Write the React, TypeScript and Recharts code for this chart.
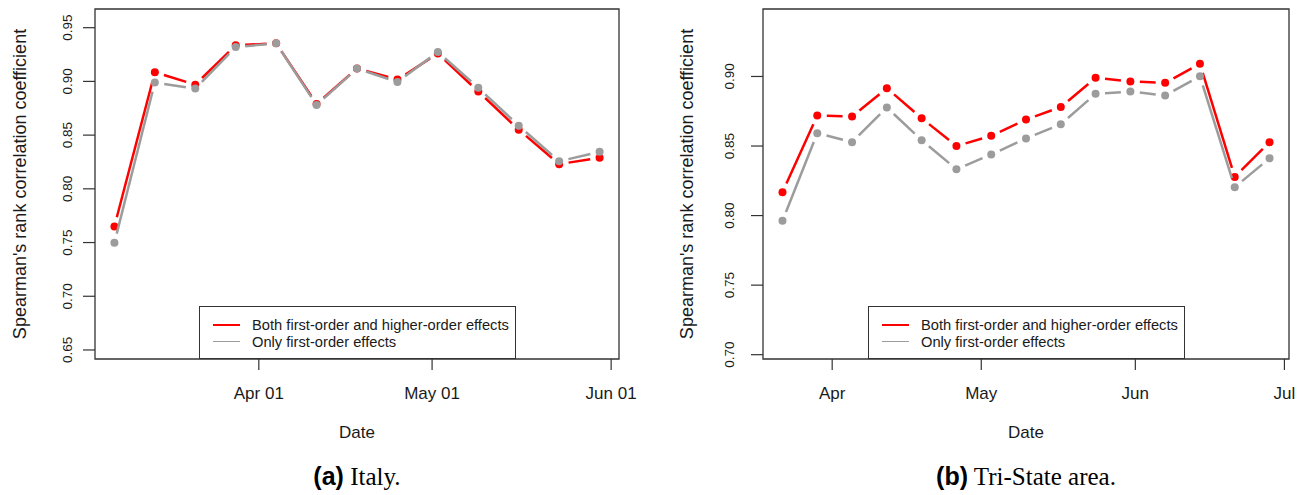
import React from 'react';
import { LineChart, Line, XAxis, YAxis, ReferenceArea, Legend, Label } from 'recharts';

// weekly dates (2020)
const italyDates = [
  '2020-03-07', '2020-03-14', '2020-03-21', '2020-03-28', '2020-04-04', '2020-04-11', '2020-04-18',
  '2020-04-25', '2020-05-02', '2020-05-09', '2020-05-16', '2020-05-23', '2020-05-30',
];
const italyBoth = [0.765, 0.9085, 0.897, 0.9336, 0.9355, 0.879, 0.912, 0.9017, 0.926, 0.8906, 0.855, 0.823, 0.829];
const italyFirst = [0.7497, 0.899, 0.8933, 0.932, 0.9355, 0.878, 0.912, 0.8995, 0.9274, 0.894, 0.8587, 0.8256, 0.8345];

const triDates = [
  '2020-03-22', '2020-03-29', '2020-04-05', '2020-04-12', '2020-04-19', '2020-04-26', '2020-05-03', '2020-05-10',
  '2020-05-17', '2020-05-24', '2020-05-31', '2020-06-07', '2020-06-14', '2020-06-21', '2020-06-28',
];
const triBoth = [0.8168, 0.8719, 0.8712, 0.8916, 0.87, 0.85, 0.8573, 0.869, 0.878, 0.899, 0.8964, 0.8954, 0.9091, 0.8278, 0.8528];
const triFirst = [0.7962, 0.8592, 0.8528, 0.8777, 0.8542, 0.8333, 0.8439, 0.8554, 0.8657, 0.8875, 0.8892, 0.8863, 0.9002, 0.8204, 0.8412];

const italyTickDates = ['2020-04-01', '2020-05-01', '2020-06-01'];
const italyTickLabels = ['Apr 01', 'May 01', 'Jun 01'];
const triTickDates = ['2020-04-01', '2020-05-01', '2020-06-01', '2020-07-01'];
const triTickLabels = ['Apr', 'May', 'Jun', 'Jul'];

const italyYTicks = [0.65, 0.7, 0.75, 0.8, 0.85, 0.9, 0.95];
const triYTicks = [0.7, 0.75, 0.8, 0.85, 0.9];
const italyYDomain: [number, number] = [0.6416, 0.9674];
const triYDomain: [number, number] = [0.6969, 0.9485];

const seriesNames = ['Both first-order and higher-order effects', 'Only first-order effects'];

const RED = '#ff0000';
const GRAY = '#9c9c9c';
const seriesColors = [RED, GRAY];
const SANS = '"Liberation Sans", Arial, Helvetica, sans-serif';
const SERIF = '"Liberation Serif", "Times New Roman", serif';

const DAY = 86400000;
const toDay = (s: string) => Date.UTC(+s.slice(0, 4), +s.slice(5, 7) - 1, +s.slice(8, 10)) / DAY;

const H = 495;
const TOP = 9;
const XAXIS_H = 136;
const GAP = 9.5; // R type = "b": segments stop short of the points
const DOT_R = 4;

// draws point i plus the gapped segment to point i + 1, using the line's own pixel points
const gappedDot = (key: string, color: string) => (props: any) => {
  const { cx, cy, index, points } = props;
  const next = points && points[index + 1];
  let seg = null;
  if (next && next.x != null && next.y != null) {
    const dx = next.x - cx;
    const dy = next.y - cy;
    const len = Math.hypot(dx, dy);
    if (len > 2 * GAP) {
      const ux = dx / len;
      const uy = dy / len;
      seg = (
        <line
          x1={cx + ux * GAP}
          y1={cy + uy * GAP}
          x2={next.x - ux * GAP}
          y2={next.y - uy * GAP}
          stroke={color}
          strokeWidth={2.5}
        />
      );
    }
  }
  return (
    <g key={`${key}-${index}`}>
      {seg}
      <circle cx={cx} cy={cy} r={DOT_R} fill={color} />
    </g>
  );
};

interface PanelProps {
  dates: string[];
  both: number[];
  first: number[];
  tickDates: string[];
  tickLabels: string[];
  yTicks: number[];
  yDomain: [number, number];
  width: number;
  axisW: number;
  rightM: number;
  tickLabelX: number;
  titleX: number;
  tag: string;
  place: string;
}

const Panel = (p: PanelProps) => {
  const data = p.dates.map((d, i) => ({ x: toDay(d), both: p.both[i], first: p.first[i] }));
  const xs = data.map((d) => d.x);
  const pad = (Math.max(...xs) - Math.min(...xs)) * 0.04;
  const xDomain: [number, number] = [Math.min(...xs) - pad, Math.max(...xs) + pad];
  const ticks = p.tickDates.map(toDay);
  const plotW = p.width - p.axisW - p.rightM;
  const cx = p.axisW + plotW / 2;
  const cy = TOP + (H - TOP - XAXIS_H) / 2;
  const legendW = 317;

  return (
    <LineChart width={p.width} height={H} data={data} margin={{ top: TOP, right: p.rightM, bottom: 0, left: 0 }}>
      <XAxis
        dataKey="x"
        type="number"
        domain={xDomain}
        allowDataOverflow
        ticks={ticks}
        axisLine={false}
        tickSize={11}
        tickLine={{ stroke: '#333', strokeWidth: 1.2 }}
        height={XAXIS_H}
        tick={(t: any) => (
          <text x={t.x} y={393} textAnchor="middle" dominantBaseline="central" fontFamily={SANS} fontSize={17} fill="#1a1a1a">
            {p.tickLabels[ticks.indexOf(t.payload.value)]}
          </text>
        )}
      >
        <Label
          content={() => (
            <g>
              <text x={cx} y={432} textAnchor="middle" dominantBaseline="central" fontFamily={SANS} fontSize={17} fill="#1a1a1a">
                Date
              </text>
              <text x={cx} y={485} textAnchor="middle" fontSize={25} fill="#000">
                <tspan fontFamily={SANS} fontWeight="bold">{p.tag}</tspan>
                <tspan fontFamily={SERIF}> {p.place}</tspan>
              </text>
            </g>
          )}
        />
      </XAxis>
      <YAxis
        type="number"
        domain={p.yDomain}
        allowDataOverflow
        ticks={p.yTicks}
        width={p.axisW}
        axisLine={false}
        tickSize={12}
        tickLine={{ stroke: '#333', strokeWidth: 1.2 }}
        tick={(t: any) => (
          <text
            x={p.tickLabelX}
            y={t.y}
            transform={`rotate(-90 ${p.tickLabelX} ${t.y})`}
            textAnchor="middle"
            dominantBaseline="central"
            fontFamily={SANS}
            fontSize={13.5}
            fill="#1a1a1a"
          >
            {Number(t.payload.value).toFixed(2)}
          </text>
        )}
      >
        <Label
          content={() => (
            <text
              x={p.titleX}
              y={cy}
              transform={`rotate(-90 ${p.titleX} ${cy})`}
              textAnchor="middle"
              dominantBaseline="central"
              fontFamily={SANS}
              fontSize={18}
              fill="#1a1a1a"
            >
              Spearman's rank correlation coefficient
            </text>
          )}
        />
      </YAxis>

      <Line
        dataKey="both"
        name={seriesNames[0]}
        stroke="none"
        dot={gappedDot('b', RED)}
        activeDot={false}
        isAnimationActive={false}
      />
      <Line
        dataKey="first"
        name={seriesNames[1]}
        stroke="none"
        dot={gappedDot('f', GRAY)}
        activeDot={false}
        isAnimationActive={false}
      />

      <ReferenceArea
        x1={xDomain[0]}
        x2={xDomain[1]}
        y1={p.yDomain[0]}
        y2={p.yDomain[1]}
        fill="none"
        stroke="#333"
        strokeWidth={1.3}
      />

      <Legend
        layout="horizontal"
        verticalAlign="middle"
        align="center"
        wrapperStyle={{ left: cx - legendW / 2, top: 306, width: legendW, height: 53 }}
        content={() => (
          <div
            style={{
              position: 'relative',
              width: legendW,
              height: 53,
              boxSizing: 'border-box',
              border: '1.2px solid #333',
              background: '#fff',
              fontFamily: SANS,
              fontSize: 14.7,
              color: '#1a1a1a',
            }}
          >
            {seriesNames.map((name, i) => (
              <div key={i} style={{ position: 'absolute', left: 0, top: 10 + i * 16.7, height: 16, width: '100%' }}>
                <span style={{ position: 'absolute', left: 13, top: 7.4, width: 27, height: 1.3, background: seriesColors[i] }} />
                <span style={{ position: 'absolute', left: 52.5, top: 0, lineHeight: '16px', whiteSpace: 'nowrap' }}>{name}</span>
              </div>
            ))}
          </div>
        )}
      />
    </LineChart>
  );
};

export default function App() {
  return (
    <div style={{ position: 'absolute', left: 0, top: 0, width: 1309, height: H, background: '#fff' }}>
      <div style={{ position: 'absolute', left: 0, top: 0 }}>
        <Panel
          dates={italyDates}
          both={italyBoth}
          first={italyFirst}
          tickDates={italyTickDates}
          tickLabels={italyTickLabels}
          yTicks={italyYTicks}
          yDomain={italyYDomain}
          width={660}
          axisW={95}
          rightM={41}
          tickLabelX={68}
          titleX={20}
          tag="(a)"
          place="Italy."
        />
      </div>
      <div style={{ position: 'absolute', left: 660, top: 0 }}>
        <Panel
          dates={triDates}
          both={triBoth}
          first={triFirst}
          tickDates={triTickDates}
          tickLabels={triTickLabels}
          yTicks={triYTicks}
          yDomain={triYDomain}
          width={649}
          axisW={103}
          rightM={20}
          tickLabelX={70}
          titleX={27}
          tag="(b)"
          place="Tri-State area."
        />
      </div>
    </div>
  );
}
